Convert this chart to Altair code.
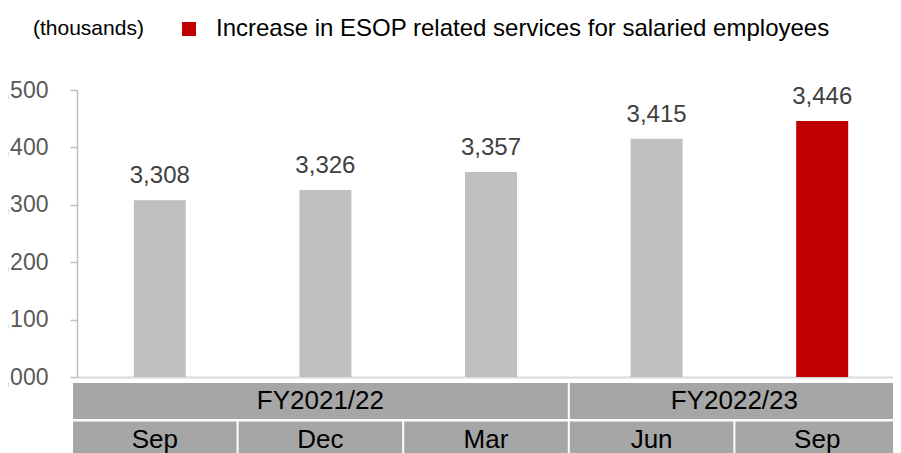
import altair as alt
import pandas as pd

# ---- data ----
months = ["Sep", "Dec", "Mar", "Jun", "Sep"]
values = [3308, 3326, 3357, 3415, 3446]
month_fy = [0, 0, 0, 1, 1]
fiscal_years = ["FY2021/22", "FY2022/23"]
highlighted = [False, False, False, False, True]
series_label = "Increase in ESOP related services for salaried employees"
y_ticks = [3000, 3100, 3200, 3300, 3400, 3500]
unit_note = "(thousands)"

FONT = "Liberation Sans"

bars_df = pd.DataFrame({
    "idx": list(range(len(months))),
    "month": months,
    "value": values,
    "series": [series_label if h else "Other" for h in highlighted],
})

# table cells: row 0 = fiscal year groups, row 1 = months
cells = []
for f, fy in enumerate(fiscal_years):
    members = [i for i, m in enumerate(month_fy) if m == f]
    cells.append({"label": fy, "x0": min(members) - 0.5, "x1": max(members) + 0.5,
                  "xc": (min(members) + max(members)) / 2, "r0": 0, "r1": 1, "rc": 0.5})
for i, m in enumerate(months):
    cells.append({"label": m, "x0": i - 0.5, "x1": i + 0.5, "xc": i,
                  "r0": 1, "r1": 2, "rc": 1.5})
cells_df = pd.DataFrame(cells)

PLOT_W = 816
COL_W = 165.6  # pixel width of one category column in the reference
x_scale = alt.Scale(domain=[-0.5, -0.5 + PLOT_W / COL_W], nice=False, zero=False, padding=0)
y_scale = alt.Scale(domain=[y_ticks[0], y_ticks[-1]], nice=False, zero=False)
row_scale = alt.Scale(domain=[0, 2], range=[293, 370], nice=False, zero=False)

base = alt.Chart(bars_df)

bars = base.mark_bar(size=52).encode(
    x=alt.X("idx:Q", scale=x_scale,
            axis=alt.Axis(labels=False, ticks=False, grid=False, title=None,
                          domainColor="#d9d9d9", domainWidth=2)),
    y=alt.Y("value:Q", scale=y_scale,
            axis=alt.Axis(values=y_ticks, format=",d", grid=False, title=None,
                          labelFontSize=23, labelColor="#595959", labelFont=FONT,
                          tickColor="#bfbfbf", tickSize=7, tickWidth=1.5,
                          domainColor="#bfbfbf", domainWidth=1.5, labelPadding=22)),
    y2=alt.datum(y_ticks[0]),
    color=alt.Color("series:N",
                    scale=alt.Scale(domain=[series_label, "Other"], range=["#c00000", "#bfbfbf"]),
                    legend=alt.Legend(values=[series_label], title=None, orient="none",
                                      legendX=100, legendY=-73, symbolType="square",
                                      symbolSize=196, symbolStrokeWidth=0,
                                      labelFontSize=24, labelFont=FONT, labelColor="#000000",
                                      labelLimit=1000, labelOffset=15, padding=0)),
)

bar_labels = base.mark_text(dy=-17, baseline="alphabetic", fontSize=24, font=FONT,
                            color="#404040").encode(
    x=alt.X("idx:Q", scale=x_scale),
    y=alt.Y("value:Q", scale=y_scale, axis=None),
    text=alt.Text("value:Q", format=",d"),
)

cell_rects = alt.Chart(cells_df).mark_rect(color="#a6a6a6", xOffset=-4, x2Offset=-6,
                                           y2Offset=-2.5).encode(
    x=alt.X("x0:Q", scale=x_scale),
    x2="x1:Q",
    y=alt.Y("r0:Q", scale=row_scale, axis=None),
    y2="r1:Q",
)

cell_text = alt.Chart(cells_df).mark_text(dx=-5, dy=-1, baseline="middle", fontSize=26,
                                          font=FONT, color="#000000").encode(
    x=alt.X("xc:Q", scale=x_scale),
    y=alt.Y("rc:Q", scale=row_scale, axis=None),
    text="label:N",
)

chart = alt.layer(cell_rects, bars, bar_labels, cell_text).resolve_scale(
    y="independent"
).properties(
    width=PLOT_W,
    height=287,
    title=alt.TitleParams(unit_note, anchor="start", frame="group", fontSize=21,
                          font=FONT, fontWeight="normal", color="#000000", dx=-44, dy=26),
    autosize=alt.AutoSizeParams(type="none"),
    padding={"left": 69, "top": 82, "right": 0, "bottom": 76},
).configure_view(stroke=None)

chart.save("out.html", embed_options={"renderer": "svg", "actions": False})
